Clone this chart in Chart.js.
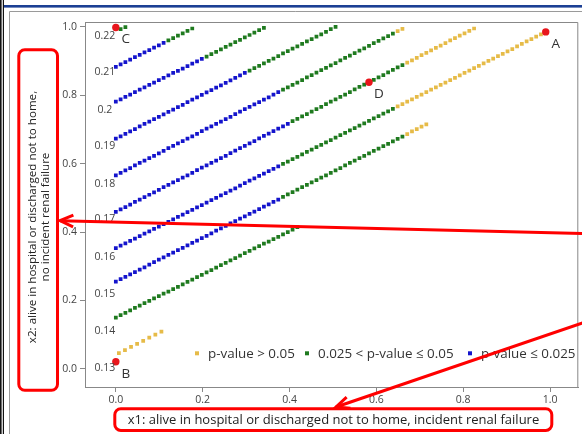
<!DOCTYPE html>
<html>
<head>
<meta charset="utf-8">
<script src="https://cdn.jsdelivr.net/npm/chart.js@4.4.0/dist/chart.umd.min.js"></script>
<style>
  html, body { margin: 0; padding: 0; background: #fff; }
  canvas { display: block; }
</style>
</head>
<body>
<canvas id="c" width="582" height="434"></canvas>
<script>
// ---- data -------------------------------------------------------------
// x1 sampling grid shared by the iso-lines
const x1Grid = [0,0.011,0.022,0.033,0.044,0.055,0.066,0.077,0.088,0.099,
  0.11,0.121,0.132,0.143,0.154,0.165,0.176,0.187,0.198,0.209,
  0.22,0.231,0.242,0.253,0.264,0.275,0.286,0.297,0.308,0.319,
  0.33,0.341,0.352,0.363,0.374,0.385,0.396,0.407,0.418,0.429,
  0.44,0.451,0.462,0.473,0.484,0.495,0.506,0.517,0.528,0.539,
  0.55,0.561,0.572,0.583,0.594,0.605,0.616,0.627,0.638,0.649,
  0.66,0.671,0.682,0.693,0.704,0.715,0.726,0.737,0.748,0.759,
  0.77,0.781,0.792,0.803,0.814,0.825,0.836,0.847,0.858,0.869,
  0.88,0.891,0.902,0.913,0.924,0.935,0.946,0.957,0.968,0.979,
  0.99];

const line022X1 = [0.011, 0.022];
const line022X2 = [0.993, 0.999];

const line021X2 = [0.883,0.890,0.897,0.904,0.911,0.918,0.925,0.932,0.939,0.946,
  0.953,0.960,0.967,0.974,0.981,0.988,0.995];

const line020X2 = [0.781,0.788,0.795,0.802,0.809,0.816,0.823,0.830,0.837,0.844,
  0.851,0.858,0.865,0.871,0.878,0.885,0.892,0.899,0.906,0.913,
  0.920,0.927,0.934,0.941,0.948,0.955,0.962,0.969,0.976,0.983,
  0.990,0.997];

const line019X2 = [0.673,0.680,0.687,0.694,0.701,0.709,0.716,0.723,0.730,0.737,
  0.744,0.751,0.758,0.765,0.772,0.780,0.787,0.794,0.801,0.808,
  0.815,0.822,0.829,0.836,0.843,0.851,0.858,0.865,0.872,0.879,
  0.886,0.893,0.900,0.907,0.914,0.922,0.929,0.936,0.943,0.950,
  0.957,0.964,0.971,0.978,0.985,0.993,1.000];

const line018X2 = [0.566,0.573,0.580,0.587,0.595,0.602,0.609,0.616,0.623,0.630,
  0.637,0.645,0.652,0.659,0.666,0.673,0.680,0.687,0.695,0.702,
  0.709,0.716,0.723,0.730,0.737,0.745,0.752,0.759,0.766,0.773,
  0.780,0.787,0.794,0.802,0.809,0.816,0.823,0.830,0.837,0.844,
  0.852,0.859,0.866,0.873,0.880,0.887,0.894,0.902,0.909,0.916,
  0.923,0.930,0.937,0.944,0.952,0.959,0.966,0.973,0.980,0.987,
  0.994];

const line017X2 = [0.459,0.466,0.473,0.480,0.488,0.495,0.502,0.509,0.516,0.523,
  0.531,0.538,0.545,0.552,0.559,0.566,0.573,0.581,0.588,0.595,
  0.602,0.609,0.616,0.623,0.631,0.638,0.645,0.652,0.659,0.666,
  0.674,0.681,0.688,0.695,0.702,0.709,0.716,0.724,0.731,0.738,
  0.745,0.752,0.759,0.766,0.774,0.781,0.788,0.795,0.802,0.809,
  0.817,0.824,0.831,0.838,0.845,0.852,0.859,0.867,0.874,0.881,
  0.888,0.895,0.902,0.909,0.917,0.924,0.931,0.938,0.945,0.952,
  0.960,0.967,0.974,0.981,0.988,0.995];

const line016X2 = [0.353,0.360,0.367,0.374,0.381,0.388,0.395,0.402,0.409,0.416,
  0.423,0.430,0.437,0.444,0.451,0.458,0.465,0.472,0.479,0.486,
  0.493,0.500,0.507,0.514,0.521,0.528,0.536,0.543,0.550,0.557,
  0.564,0.571,0.578,0.585,0.592,0.599,0.606,0.613,0.620,0.627,
  0.634,0.641,0.648,0.655,0.662,0.669,0.676,0.683,0.690,0.697,
  0.704,0.711,0.718,0.725,0.732,0.739,0.746,0.753,0.760,0.767,
  0.774,0.781,0.788,0.795,0.802,0.809,0.816,0.823,0.830,0.837,
  0.844,0.851,0.858,0.865,0.872,0.879,0.886,0.893,0.900,0.907,
  0.914,0.921,0.928,0.935,0.943,0.950,0.957,0.964,0.971,0.978,
  0.985];

const line015X2 = [0.255,0.262,0.269,0.276,0.283,0.290,0.297,0.305,0.312,0.319,
  0.326,0.333,0.340,0.347,0.354,0.361,0.368,0.375,0.382,0.389,
  0.396,0.404,0.411,0.418,0.425,0.432,0.439,0.446,0.453,0.460,
  0.467,0.474,0.481,0.488,0.495,0.503,0.510,0.517,0.524,0.531,
  0.538,0.545,0.552,0.559,0.566,0.573,0.580,0.587,0.595,0.602,
  0.609,0.616,0.623,0.630,0.637,0.644,0.651,0.658,0.665,0.672,
  0.679,0.686,0.694,0.701,0.708,0.715];

const line014X2 = [0.150,0.157,0.164,0.171,0.178,0.185,0.192,0.199,0.206,0.213,
  0.220,0.226,0.233,0.240,0.247,0.254,0.261,0.268,0.275,0.282,
  0.289,0.296,0.303,0.310,0.317,0.324,0.331,0.338,0.345,0.352,
  0.359,0.366,0.372,0.379,0.386,0.393,0.400,0.407,0.414];

const line013X1 = [0.007,0.021,0.035,0.049,0.063,0.077,0.091,0.105];
const line013X2 = [0.046,0.055,0.064,0.073,0.082,0.091,0.100,0.109];

// iso-line names (top to bottom) and their point lists
const lineLabels = ['0.22','0.21','0.2','0.19','0.18','0.17','0.16','0.15','0.14','0.13'];
const lineX1 = [line022X1, x1Grid, x1Grid, x1Grid, x1Grid, x1Grid, x1Grid, x1Grid, x1Grid, line013X1];
const lineX2 = [line022X2, line021X2, line020X2, line019X2, line018X2, line017X2, line016X2, line015X2, line014X2, line013X2];
// index along each line where the p-value class changes
const greenFrom  = [0, 11, 19, 28, 35, 37, 35, 35, 0, 0];
const yellowFrom = [2, 17, 32, 47, 59, 61, 59, 61, 39, 0];
// x2 value at which each line's name is written (at x1 = 0)
const lineLabelX2 = [0.973, 0.867, 0.758, 0.651, 0.540, 0.437, 0.326, 0.219, 0.112, 0.002];

// highlighted scenarios
const markNames = ['A', 'B', 'C', 'D'];
const markX1 = [0.99, 0.0, 0.0, 0.583];
const markX2 = [0.985, 0.021, 0.998, 0.838];

const legendLabels = ['p-value > 0.05', '0.025 < p-value \u2264 0.05', 'p-value \u2264 0.025'];
const xTicks = [0, 0.2, 0.4, 0.6, 0.8, 1.0];
const yTicks = [0, 0.2, 0.4, 0.6, 0.8, 1.0];
const xTitle = 'x1: alive in hospital or discharged not to home, incident renal failure';
const yTitle = ['x2: alive in hospital or discharged not to home,', 'no incident renal failure'];

// ---- styling ------------------------------------------------------------
const FONT = '"Open Sans", "DejaVu Sans", sans-serif';
const RED = '#e8161c', YEL = '#e6bb48', GRN = '#1f7a1f', BLU = '#1414cc';
const classColors = [YEL, GRN, BLU];

// split every line's points into the three p-value classes
const yellowPts = [], greenPts = [], bluePts = [];
lineX2.forEach((ys, i) => {
  ys.forEach((v, k) => {
    const p = { x: lineX1[i][k], y: v };
    if (k >= yellowFrom[i]) yellowPts.push(p);
    else if (k >= greenFrom[i]) greenPts.push(p);
    else bluePts.push(p);
  });
});
const markPts = markX1.map((v, i) => ({ x: v, y: markX2[i] }));

const sq = { pointStyle: 'rect', pointRadius: 2.65, pointBorderWidth: 0, pointHoverRadius: 2.65 };

const overlay = {
  id: 'overlay',
  beforeDraw(chart) {
    const ctx = chart.ctx, W = chart.width, H = chart.height;
    ctx.save();
    ctx.fillStyle = '#fff';
    ctx.fillRect(0, 0, W, H);
    // window edges around the figure
    ctx.fillStyle = '#111';
    ctx.fillRect(0, 0, 1.6, H);
    ctx.fillRect(2.8, 0, 1.2, H);
    ctx.fillStyle = '#1c3f94';
    ctx.fillRect(4, 5, W - 4, 2.6);
    ctx.strokeStyle = '#9a9a9a';
    ctx.lineWidth = 1;
    ctx.beginPath();
    ctx.moveTo(9.5, H); ctx.lineTo(9.5, 11.5); ctx.lineTo(W, 11.5);
    ctx.stroke();
    ctx.restore();
  },
  afterDraw(chart) {
    const { ctx, chartArea: a } = chart;
    const xs = chart.scales.x, ys = chart.scales.y;
    ctx.save();
    // top and right edges of the plot frame
    ctx.strokeStyle = '#888';
    ctx.lineWidth = 1;
    ctx.beginPath();
    ctx.moveTo(a.left, a.top + 0.5);
    ctx.lineTo(a.right - 0.5, a.top + 0.5);
    ctx.lineTo(a.right - 0.5, a.bottom);
    ctx.stroke();

    // iso-line names
    ctx.font = `10.5px ${FONT}`;
    ctx.fillStyle = '#444';
    ctx.textAlign = 'center';
    ctx.textBaseline = 'middle';
    lineLabels.forEach((t, i) => {
      ctx.fillText(t, xs.getPixelForValue(0) - 11, ys.getPixelForValue(lineLabelX2[i]));
    });

    // letters beside the highlighted scenarios
    ctx.font = `13.5px ${FONT}`;
    ctx.fillStyle = '#333';
    markNames.forEach((t, i) => {
      ctx.fillText(t, xs.getPixelForValue(markX1[i]) + 10, ys.getPixelForValue(markX2[i]) + 12);
    });

    // legend inside the plot, lower right
    const legendX = [197, 307, 470];
    const legendY = a.bottom - 33.7;
    ctx.font = `13.4px ${FONT}`;
    ctx.textAlign = 'left';
    legendLabels.forEach((t, i) => {
      ctx.fillStyle = classColors[i];
      ctx.fillRect(legendX[i] - 2, legendY - 2, 4, 4);
      ctx.fillStyle = '#333';
      ctx.fillText(t, legendX[i] + 11, legendY + 0.5);
    });

    // axis titles
    ctx.fillStyle = '#222';
    ctx.textAlign = 'center';
    ctx.font = `13px ${FONT}`;
    ctx.fillText(xTitle, 333.5, 420.5);
    ctx.save();
    ctx.translate(33, 217);
    ctx.rotate(-Math.PI / 2);
    ctx.font = `11.6px ${FONT}`;
    ctx.fillText(yTitle[0], 0, 0);
    ctx.fillText(yTitle[1], 0, 12.3);
    ctx.restore();

    // red call-out boxes and arrows
    ctx.strokeStyle = '#ff0000';
    ctx.lineWidth = 3;
    ctx.lineJoin = 'miter';
    ctx.beginPath();
    ctx.roundRect(18.8, 49.8, 38.7, 340.4, 6);
    ctx.stroke();
    ctx.beginPath();
    ctx.roundRect(114.8, 408.8, 437, 21.6, 6);
    ctx.stroke();

    const arrow = (x0, y0, x1, y1) => {
      ctx.beginPath();
      ctx.moveTo(x0, y0);
      ctx.lineTo(x1, y1);
      ctx.stroke();
      const ang = Math.atan2(y0 - y1, x0 - x1), L = 14.5, w = 0.42;
      ctx.beginPath();
      ctx.moveTo(x1 + L * Math.cos(ang + w), y1 + L * Math.sin(ang + w));
      ctx.lineTo(x1, y1);
      ctx.lineTo(x1 + L * Math.cos(ang - w), y1 + L * Math.sin(ang - w));
      ctx.stroke();
    };
    arrow(584, 233.5, 60, 220.7);
    arrow(584, 322.5, 336, 407);
    ctx.restore();
  }
};

const axisCommon = {
  type: 'linear',
  grid: { drawOnChartArea: false, drawTicks: true, tickLength: 5, color: '#888' },
  border: { display: true, color: '#888', width: 1 },
  ticks: {
    font: { family: FONT, size: 10.5 },
    color: '#444',
    padding: 2,
    autoSkip: false,
    maxRotation: 0,
    callback: v => Number(v).toFixed(1)
  }
};

new Chart(document.getElementById('c'), {
  type: 'scatter',
  data: {
    datasets: [
      { label: 'scenarios', data: markPts, pointStyle: 'circle', pointRadius: 3.7, pointHoverRadius: 3.7,
        pointBorderWidth: 0, pointBackgroundColor: RED, backgroundColor: RED, order: 0 },
      { label: legendLabels[0], data: yellowPts, pointBackgroundColor: YEL, backgroundColor: YEL, order: 1, ...sq },
      { label: legendLabels[1], data: greenPts, pointBackgroundColor: GRN, backgroundColor: GRN, order: 2, ...sq },
      { label: legendLabels[2], data: bluePts, pointBackgroundColor: BLU, backgroundColor: BLU, order: 3, ...sq }
    ]
  },
  options: {
    responsive: false,
    animation: false,
    devicePixelRatio: 1,
    events: [],
    layout: { padding: { top: 22, right: 2, left: 0, bottom: 0 } },
    plugins: { legend: { display: false }, tooltip: { enabled: false } },
    scales: {
      x: {
        ...axisCommon,
        position: 'bottom',
        min: -0.071, max: 1.065,
        afterBuildTicks: s => { s.ticks = xTicks.map(v => ({ value: v })); },
        afterFit: s => { s.height = 47; }
      },
      y: {
        ...axisCommon,
        position: 'left',
        min: -0.053, max: 1.014,
        ticks: { ...axisCommon.ticks, padding: 3 },
        afterBuildTicks: s => { s.ticks = yTicks.map(v => ({ value: v })); },
        afterFit: s => { s.width = 85; }
      }
    }
  },
  plugins: [overlay]
});
</script>
</body>
</html>
